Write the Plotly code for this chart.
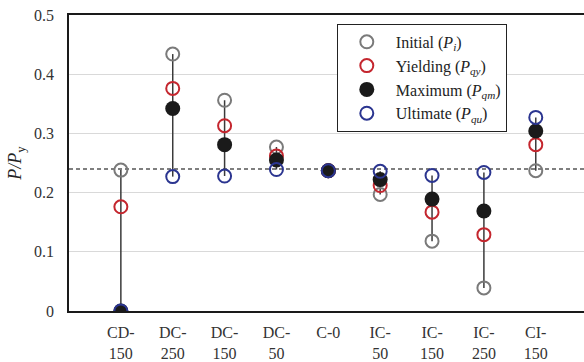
import plotly.graph_objects as go

categories = ["CD-150", "DC-250", "DC-150", "DC-50", "C-0", "IC-50", "IC-150", "IC-250", "CI-150"]
tick_labels = ["CD-<br>150", "DC-<br>250", "DC-<br>150", "DC-<br>50", "C-0",
               "IC-<br>50", "IC-<br>150", "IC-<br>250", "CI-<br>150"]

initial = [0.238, 0.434, 0.356, 0.277, 0.237, 0.197, 0.118, 0.039, 0.237]
yielding = [0.176, 0.376, 0.313, 0.262, 0.237, 0.212, 0.167, 0.129, 0.281]
maximum = [0.0, 0.342, 0.281, 0.255, 0.237, 0.222, 0.189, 0.169, 0.304]
ultimate = [0.0, 0.227, 0.228, 0.239, 0.237, 0.236, 0.229, 0.234, 0.327]

reference_level = 0.24
y_ticks = [0, 0.1, 0.2, 0.3, 0.4, 0.5]
y_tick_text = ["0", "0.1", "0.2", "0.3", "0.4", "0.5"]

FONT = "Liberation Serif"
xs = list(range(len(categories)))

fig = go.Figure()

# high-low connector lines
lx, ly = [], []
for i in xs:
    vals = [initial[i], yielding[i], maximum[i], ultimate[i]]
    lx += [i, i, None]
    ly += [min(vals), max(vals), None]
fig.add_trace(go.Scatter(x=lx, y=ly, mode="lines", line=dict(color="#3a3a3a", width=1.5),
                         showlegend=False, hoverinfo="skip"))

series = [
    ("Initial (<i>P</i><sub><i>i</i></sub>)", initial, "#7a7a7a", False),
    ("Yielding (<i>P</i><sub><i>qy</i></sub>)", yielding, "#c4262e", False),
    ("Maximum (<i>P</i><sub><i>qm</i></sub>)", maximum, "#1a1a1a", True),
    ("Ultimate (<i>P</i><sub><i>qu</i></sub>)", ultimate, "#2b3590", False),
]
for name, vals, color, filled in series:
    if filled:
        marker = dict(symbol="circle", size=15, color=color, line=dict(width=0))
    else:
        marker = dict(symbol="circle-open", size=13, color=color, line=dict(width=2, color=color))
    fig.add_trace(go.Scatter(x=xs, y=vals, mode="markers", name=name, marker=marker))

fig.add_shape(type="line", xref="paper", x0=0, x1=1, yref="y", y0=reference_level, y1=reference_level,
              line=dict(color="#555555", width=1.5, dash="4px,3px"), layer="below")

tf = dict(family=FONT, size=16, color="#333333")
fig.update_layout(
    width=584, height=362,
    margin=dict(l=69, r=0, t=15, b=48),
    paper_bgcolor="white", plot_bgcolor="white",
    font=tf,
    showlegend=True,
    legend=dict(x=0.52, y=0.97, xanchor="left", yanchor="top",
                bgcolor="white", bordercolor="#222222", borderwidth=1,
                font=dict(family=FONT, size=16, color="#222222"),
                itemwidth=48, tracegroupgap=0),
    xaxis=dict(range=[-1, 8.93], tickvals=xs, ticktext=tick_labels, showgrid=False,
               zeroline=False, showline=True, linecolor="#1a1a1a", linewidth=2, mirror=True,
               ticks="", ticklabelstandoff=6, tickfont=tf),
    yaxis=dict(range=[0, 0.5], tickvals=y_ticks, ticktext=y_tick_text, showgrid=True,
               gridcolor="#d9d9d9", gridwidth=1, zeroline=False, showline=True,
               linecolor="#1a1a1a", linewidth=1.5, ticks="", ticklabelstandoff=10,
               tickfont=tf,
               title=dict(text="<i>P/P</i><sub>y</sub>", font=dict(family=FONT, size=18, color="#222222"),
                          standoff=8)),
)

fig.write_html("out.html", config={"displayModeBar": False},
               post_script="document.body.style.margin='0';document.body.style.padding='0';")
